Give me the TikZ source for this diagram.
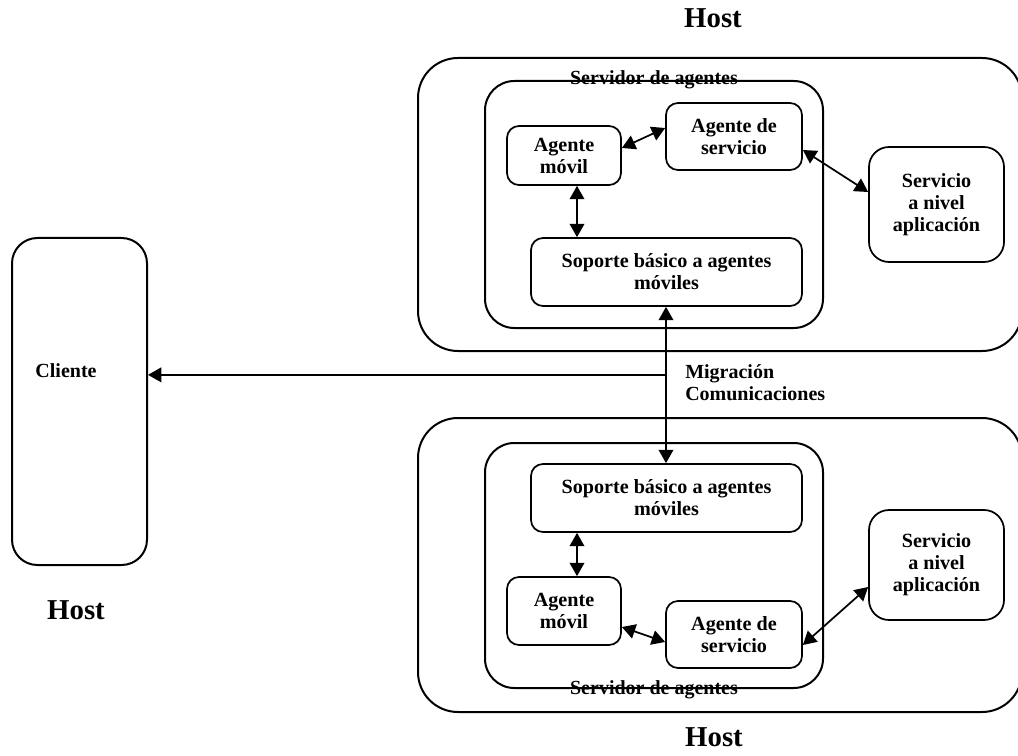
\documentclass[tikz,border=0pt]{standalone}
\usepackage{fontspec}
\setmainfont{Liberation Serif}
\usetikzlibrary{arrows.meta,calc}
\begin{document}
\begin{tikzpicture}[x=0.75pt,y=-0.75pt,
  txt/.style={font=\fontsize{15}{16.5}\selectfont\bfseries, inner sep=0pt},
  hostlbl/.style={font=\fontsize{21.6}{24}\selectfont\bfseries, inner sep=0pt},
  frame/.style={draw, line width=1.5pt, rounded corners=#1, inner sep=0pt},
  box/.style={draw, line width=1.3pt, rounded corners=9pt, inner sep=0pt, align=center,
    font=\fontsize{15.1}{16.5}\selectfont\bfseries},
  link/.style={{Triangle[length=10pt,width=11pt]}-{Triangle[length=10pt,width=11pt]}, line width=1.3pt},
  oneway/.style={-{Triangle[length=10pt,width=11pt]}, line width=1.3pt}]
\clip (0,0) rectangle (1018,756);

% ---- upper host ----
\node[frame=30pt, minimum width=453pt, minimum height=219.75pt] (host1) at (720,204.5) {};
\node[frame=22pt, minimum width=253.5pt, minimum height=185.25pt] (server1) at (654,204.5) {};
\node[box, minimum width=85.5pt, minimum height=44.25pt] (movil1) at (564,155.5) {Agente\\móvil};
\node[box, minimum width=102pt, minimum height=50.25pt] (serv1) at (734,136.5) {Agente de\\servicio};
\node[box, minimum width=203.25pt, minimum height=51pt] (sop1) at (666.5,272) {Soporte básico a agentes\\móviles};
\node[box, rounded corners=15pt, minimum width=101.25pt, minimum height=86.25pt] (app1) at (936.5,204.5) {Servicio\\a nivel\\aplicación};
\node[txt, anchor=base] (srvlbl1) at (654,85) {Servidor de agentes};
\node[hostlbl, anchor=base] (hosttop) at (713,28) {Host};

% ---- lower host ----
\node[frame=30pt, minimum width=453pt, minimum height=220.5pt] (host2) at (720,565) {};
\node[frame=22pt, minimum width=253.5pt, minimum height=183.75pt] (server2) at (654,565.5) {};
\node[box, minimum width=203.25pt, minimum height=51pt] (sop2) at (666.5,498) {Soporte básico a agentes\\móviles};
\node[box, minimum width=85.5pt, minimum height=51pt] (movil2) at (564,611) {Agente\\móvil};
\node[box, minimum width=102pt, minimum height=50.25pt] (serv2) at (734,634.5) {Agente de\\servicio};
\node[box, rounded corners=15pt, minimum width=101.25pt, minimum height=82.5pt] (app2) at (936.5,565) {Servicio\\a nivel\\aplicación};
\node[txt, anchor=base] (srvlbl2) at (654,694) {Servidor de agentes};
\node[hostlbl, anchor=base] (hostbottom) at (714,746) {Host};

% ---- client host ----
\node[frame=19pt, minimum width=101.25pt, minimum height=245.25pt] (cliente) at (79.5,401.5) {};
\node[txt, anchor=base] (clientelbl) at (66,377) {Cliente};
\node[hostlbl, anchor=base] (hostleft) at (76,619) {Host};

% ---- connectors, upper host ----
\draw[link] ($(movil1.east)+(0,-7.5)$) -- ($(serv1.west)+(0,-8.5)$);
\draw[link] ($(serv1.east)+(0,13.5)$) -- ($(app1.west)+(0,-12.5)$);
\coordinate (v1) at ($(movil1.south)+(13,0)$);
\draw[link] (v1) -- (v1 |- sop1.north);

% ---- migration / communication channel ----
\coordinate (m1) at ($(sop1.south)+(-0.5,0)$);
\draw[link] (m1) -- (m1 |- sop2.north);
\coordinate (tap) at ($(m1)+(0,68)$);
\draw[oneway] (tap) -- (tap -| cliente.east);
\node[txt, anchor=base west] (mig1) at (685,378) {Migración};
\node[txt, anchor=base west] (mig2) at (685,400) {Comunicaciones};

% ---- connectors, lower host ----
\coordinate (v2) at ($(movil2.north)+(13,0)$);
\draw[link] (v2 |- sop2.south) -- (v2);
\draw[link] ($(movil2.east)+(0,16)$) -- ($(serv2.west)+(0,7.5)$);
\draw[link] ($(serv2.east)+(0,10.5)$) -- ($(app2.west)+(0,22)$);
\end{tikzpicture}
\end{document}
